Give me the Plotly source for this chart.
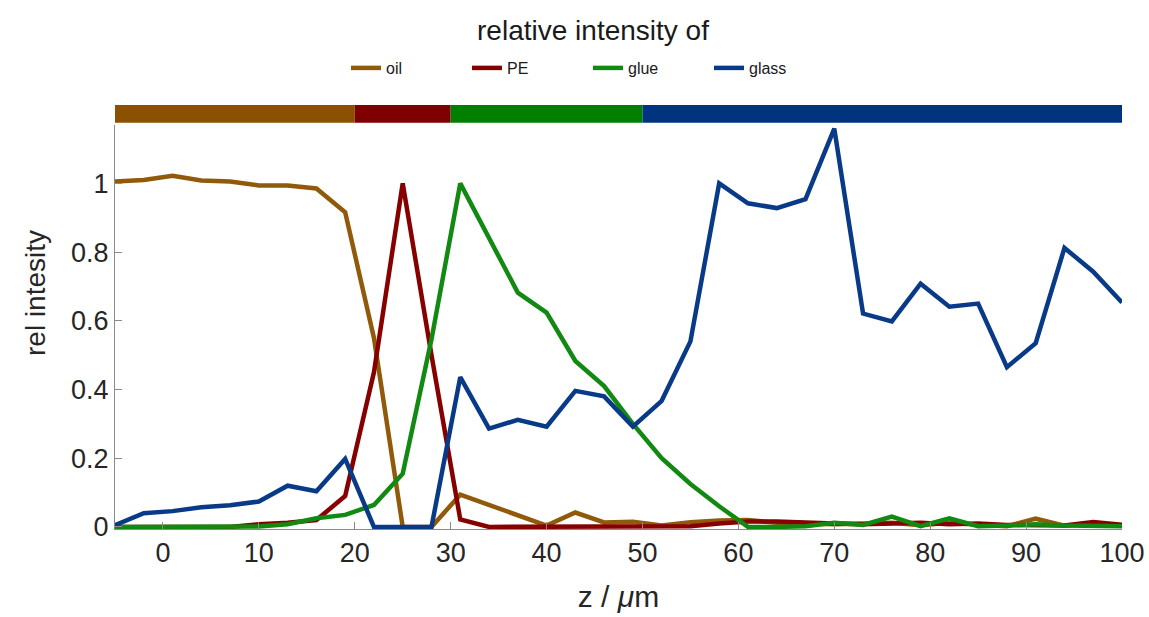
import plotly.graph_objects as go

# ---- data ----
z = [-5, -2, 1, 4, 7, 10, 13, 16, 19, 22, 25, 28, 31, 34, 37, 40, 43, 46, 49, 52,
     55, 58, 61, 64, 67, 70, 73, 76, 79, 82, 85, 88, 91, 94, 97, 100]

oil = [1.005, 1.01, 1.022, 1.008, 1.005, 0.994, 0.994, 0.985, 0.916, 0.55, 0.0, 0.0,
       0.094, 0.064, 0.033, 0.004, 0.042, 0.013, 0.015, 0.004, 0.014, 0.019, 0.02, 0.012,
       0.01, 0.008, 0.01, 0.012, 0.005, 0.012, 0.006, 0.002, 0.024, 0.004, 0.008, 0.004]

pe = [0, 0, 0, 0.002, 0, 0.008, 0.012, 0.02, 0.09, 0.45, 1.0, 0.5,
      0.022, 0, 0, 0, 0, 0, 0, 0, 0.002, 0.01, 0.016, 0.016,
      0.012, 0.01, 0.008, 0.01, 0.012, 0.008, 0.01, 0.006, 0.004, 0.004, 0.014, 0.006]

glue = [0, 0, 0, 0, 0, 0.001, 0.008, 0.025, 0.035, 0.064, 0.155, 0.546,
        1.0, 0.844, 0.682, 0.624, 0.483, 0.41, 0.3, 0.2, 0.125, 0.06, 0, 0,
        0.002, 0.012, 0.006, 0.03, 0.002, 0.025, 0.002, 0.004, 0.008, 0.004, 0.004, 0.002]

glass = [0.005, 0.04, 0.046, 0.057, 0.063, 0.074, 0.12, 0.104, 0.198, 0, 0, 0,
         0.436, 0.286, 0.312, 0.292, 0.396, 0.38, 0.292, 0.367, 0.54, 1.0, 0.942, 0.928,
         0.954, 1.159, 0.621, 0.598, 0.708, 0.641, 0.65, 0.465, 0.535, 0.812, 0.743, 0.653]

series_names = ["oil", "PE", "glue", "glass"]
series_values = [oil, pe, glue, glass]
line_colors = ["#915A0A", "#870000", "#128A12", "#083A88"]

band_names = ["oil", "PE", "glue", "glass"]
band_start = [-5, 20, 30, 50]
band_end = [20, 30, 50, 100]
band_colors = ["#8A5200", "#7F0000", "#007F00", "#00347F"]

x_ticks = [0, 10, 20, 30, 40, 50, 60, 70, 80, 90, 100]
y_ticks = [0, 0.2, 0.4, 0.6, 0.8, 1]

FONT = "Liberation Sans, Arial, sans-serif"
W, H = 1149, 617
L, R, T, B = 115, 27, 105, 88

fig = go.Figure()
for name, vals, col in zip(series_names, series_values, line_colors):
    fig.add_trace(go.Scatter(x=z, y=vals, mode="lines", name=name,
                             line=dict(color=col, width=4.5)))

shapes = []
for s, e, c in zip(band_start, band_end, band_colors):
    shapes.append(dict(type="rect", xref="x", yref="paper", x0=s, x1=e,
                       y0=0.958, y1=1.0, fillcolor=c, line=dict(width=0), layer="above"))

axis_col = "#8a8a8a"
fig.update_layout(
    width=W, height=H,
    margin=dict(l=L, r=R, t=T, b=B, autoexpand=False),
    paper_bgcolor="white", plot_bgcolor="white",
    font=dict(family=FONT, color="#262626"),
    shapes=shapes,
    title=dict(text="relative intensity of", x=593 / W, xanchor="center",
               y=1 - 30 / H, yanchor="middle", yref="container",
               font=dict(size=28, color="#1a1a1a", family=FONT)),
    legend=dict(orientation="h", x=(346 - L) / (W - L - R), xanchor="left",
                y=(H - B - 68) / (H - B - T), yanchor="middle",
                font=dict(size=16, color="#1a1a1a"), entrywidth=76,
                bgcolor="rgba(0,0,0,0)", traceorder="normal"),
    xaxis=dict(range=[-5, 100], tickvals=x_ticks, ticks="inside", ticklen=7,
               tickcolor=axis_col, showline=True, linecolor=axis_col, linewidth=1,
               showgrid=False, zeroline=False, mirror=False, automargin=False,
               tickfont=dict(size=27, color="#262626"),
               title=dict(text="z / <i>μ</i>m", font=dict(size=30, color="#262626"), standoff=18)),
    yaxis=dict(range=[-0.006, 1.17], domain=[0, 0.953], tickvals=y_ticks, ticks="inside",
               ticklen=7, tickcolor=axis_col, showline=True, linecolor=axis_col, linewidth=1,
               showgrid=False, zeroline=False, mirror=False, automargin=False,
               tickfont=dict(size=27, color="#262626")),
    annotations=[dict(text="rel intesity", xref="paper", yref="paper",
                      x=(35 - L) / (W - L - R), y=(H - B - 293) / (H - B - T),
                      xanchor="center", yanchor="middle", textangle=-90, showarrow=False,
                      font=dict(size=28, color="#262626", family=FONT))],
)

fig.write_html("out.html")
